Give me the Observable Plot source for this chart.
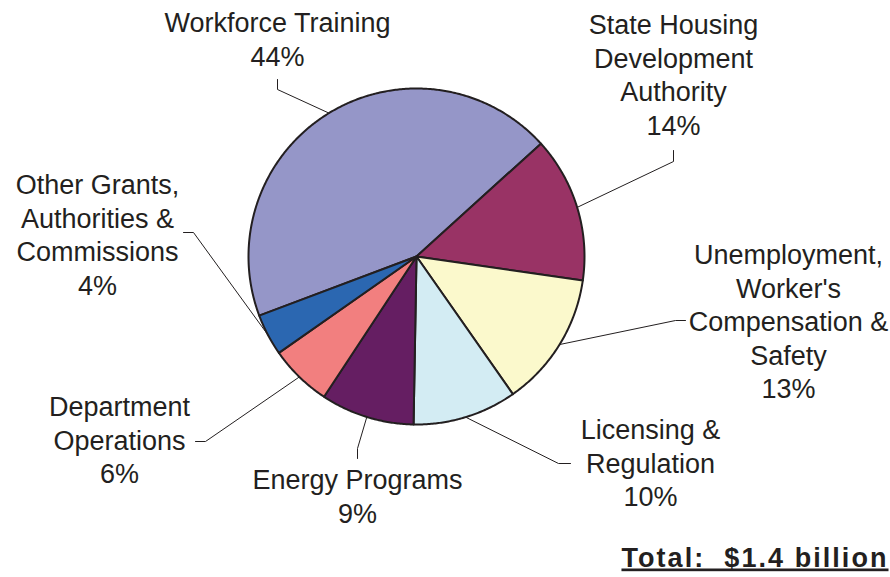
<!DOCTYPE html>
<html><head><meta charset="utf-8">
<script src="https://cdn.jsdelivr.net/npm/d3@7"></script>
<script src="https://cdn.jsdelivr.net/npm/@observablehq/plot@0.6"></script>
<style>body{margin:0;background:#fff}</style>
</head><body><div id="chart"></div>
<script>
// ---- data ----
const categories = [
  "Workforce Training",
  "State Housing Development Authority",
  "Unemployment, Worker's Compensation & Safety",
  "Licensing & Regulation",
  "Energy Programs",
  "Department Operations",
  "Other Grants, Authorities & Commissions"
];
const shares = [44, 14, 13, 10, 9, 6, 4];
const labelLines = [
  ["Workforce Training"],
  ["State Housing", "Development", "Authority"],
  ["Unemployment,", "Worker's", "Compensation &", "Safety"],
  ["Licensing &", "Regulation"],
  ["Energy Programs"],
  ["Department", "Operations"],
  ["Other Grants,", "Authorities &", "Commissions"]
];
const colors = ["#9596c8", "#993365", "#fbf9cc", "#d3ecf3", "#651e62", "#f27f7f", "#2b67b1"];
const totalLabel = "Total:  $1.4 billion";

// ---- layout ----
const W = 890, H = 577, CX = 416, CY = 256, R = 168, START = -110.6;
const labelPos = [[277, 8], [673, 10], [788, 240], [650, 415], [357, 465], [119, 392], [97, 170]];
const leaderKinks = [
  [[277, 89], [277, 79]],
  [[673, 161], [673, 150]],
  [[675, 320], [685, 320]],
  [[558, 463], [570, 463]],
  [[357, 448], [357, 458]],
  [[205, 441], [195, 441]],
  [[193, 232], [183, 232]]
];

const total = d3.sum(shares);
let acc = START;
const slices = [], leaders = [], labels = [];
categories.forEach((name, i) => {
  const a0 = acc, a1 = acc + shares[i] / total * 360; acc = a1;
  const n = Math.max(2, Math.ceil((a1 - a0) / 0.5));
  slices.push({name, x: CX, y: CY});
  for (let k = 0; k <= n; k++) {
    const a = (a0 + (a1 - a0) * k / n) * Math.PI / 180;
    slices.push({name, x: CX + R * Math.sin(a), y: CY - R * Math.cos(a)});
  }
  slices.push({name, x: CX, y: CY});
  const am = (a0 + a1) / 2 * Math.PI / 180;
  leaders.push({name, x: CX + R * Math.sin(am), y: CY - R * Math.cos(am)});
  leaderKinks[i].forEach(([x, y]) => leaders.push({name, x, y}));
  labels.push({name, x: labelPos[i][0], y: labelPos[i][1], text: [...labelLines[i], shares[i] + "%"].join("\n")});
});

const chart = Plot.plot({
  width: W, height: H, margin: 0,
  style: {fontFamily: "'Liberation Sans', Arial, sans-serif", background: "#fff"},
  x: {domain: [0, W], range: [0, W], axis: null},
  y: {domain: [0, H], range: [0, H], axis: null},
  color: {domain: categories, range: colors},
  marks: [
    Plot.line(slices, {x: "x", y: "y", z: "name", fill: "name", stroke: "#231f20", strokeWidth: 2, strokeLinejoin: "round"}),
    Plot.line(leaders, {x: "x", y: "y", z: "name", stroke: "#231f20", strokeWidth: 1}),
    Plot.text(labels, {x: "x", y: "y", text: "text", fontSize: 27, lineAnchor: "top", lineHeight: 1.24, fill: "#231f20"}),
    Plot.text([totalLabel], {frameAnchor: "bottom-right", text: d => d, textAnchor: "end", lineAnchor: "bottom", dx: -2, dy: -11, fontSize: 27, fontWeight: "bold", fill: "#231f20"})
  ]
});
d3.select(chart).selectAll("text").filter(function() { return this.textContent.startsWith("Total"); })
  .style("white-space", "pre").style("text-decoration", "underline").style("letter-spacing", "2.05px");
document.getElementById("chart").appendChild(chart);
</script>
</body></html>
